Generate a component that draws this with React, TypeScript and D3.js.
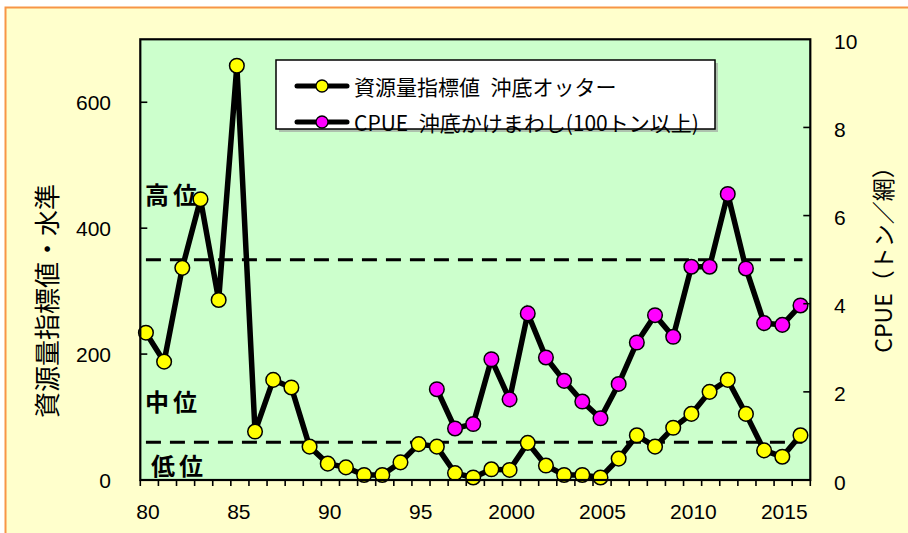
import React from "react";
import * as d3 from "d3";

const years: number[] = d3.range(1980, 2017);
const indexValues: number[] = [
  234, 188, 337, 446, 286, 658, 77, 159, 147, 53,
  26, 20, 8, 8, 28, 57, 53, 11, 4, 17,
  16, 59, 23, 8, 8, 4, 34, 71, 53, 83,
  105, 140, 159, 105, 47, 37, 71,
];
const cpueYears: number[] = d3.range(1996, 2017);
const cpueValues: number[] = [
  2.06, 1.17, 1.27, 2.74, 1.83, 3.78, 2.78, 2.25, 1.78, 1.4,
  2.18, 3.12, 3.74, 3.25, 4.84, 4.84, 6.49, 4.8, 3.56, 3.52, 3.96,
];
const leftTicks: number[] = [0, 200, 400, 600];
const rightTicks: number[] = [0, 2, 4, 6, 8, 10];
const xLabelYears: number[] = [1980, 1985, 1990, 1995, 2000, 2005, 2010, 2015];
const xLabels: string[] = ["80", "85", "90", "95", "2000", "2005", "2010", "2015"];
const levelLines: number[] = [350, 60];
const levelNames: string[] = ["高位", "中位", "低位"];
const levelNameValues: number[] = [455, 126, 24];
const legendLabels: string[] = ["資源量指標値\u2002沖底オッター", "CPUE\u2002沖底かけまわし(100トン以上)"];

const W = 908;
const H = 533;
const L = 140.3, R = 810.3, T = 39.3, B = 480;
const FONT = "'Liberation Sans', Arial, 'Noto Sans CJK JP', sans-serif";
const JFONT = "'Noto Sans CJK JP', 'Liberation Sans', sans-serif";

export default function App() {
  const x = d3.scaleLinear().domain([1979.69, 2016.54]).range([L, R]);
  const yL = d3.scaleLinear().domain([0, 700]).range([B, T]);
  const yR = d3.scaleLinear().domain([0, 10]).range([B, T]);
  const tickX = d3.range(38).map((i) => L + (i * (R - L)) / 37);

  const lineIdx = d3
    .line<number>()
    .x((_, i) => x(years[i]))
    .y((d) => yL(d));
  const lineCpue = d3
    .line<number>()
    .x((_, i) => x(cpueYears[i]))
    .y((d) => yR(d));

  const lx0 = 297, lx1 = 347, lmx = 322;
  const legendRows = [86, 122];
  const legendColors = ["#FFFF00", "#FF00FF"];

  return (
    <svg
      width={W}
      height={H}
      style={{ position: "absolute", left: 0, top: 0 }}
      xmlns="http://www.w3.org/2000/svg"
    >
      <rect x={0} y={0} width={W} height={H} fill="#ffffff" />
      <rect x={5.5} y={7.5} width={W + 20} height={H + 20} fill="#FFFFCC" stroke="#F79646" strokeWidth={2} />
      <rect x={L} y={T} width={R - L} height={B - T} fill="#CCFFCC" />

      {levelLines.map((v, i) => (
        <line
          key={"lv" + i}
          x1={x(1980)}
          x2={x(2016) + 2}
          y1={yL(v)}
          y2={yL(v)}
          stroke="#000"
          strokeWidth={3}
          strokeDasharray="15,9"
        />
      ))}

      {levelNames.map((s, i) => (
        <text
          key={"ln" + i}
          x={i === 2 ? 151 : 145}
          y={yL(levelNameValues[i])}
          fontFamily={JFONT}
          fontWeight="bold"
          fontSize={24}
          letterSpacing={4}
          dominantBaseline="central"
          fill="#000"
        >
          {s}
        </text>
      ))}

      <path d={lineIdx(indexValues) || ""} fill="none" stroke="#000" strokeWidth={5.5} strokeLinejoin="miter" />
      <path d={lineCpue(cpueValues) || ""} fill="none" stroke="#000" strokeWidth={5.5} strokeLinejoin="miter" />

      {indexValues.map((v, i) => (
        <circle key={"pi" + i} cx={x(years[i])} cy={yL(v)} r={7.3} fill="#FFFF00" stroke="#000" strokeWidth={1.5} />
      ))}
      {cpueValues.map((v, i) => (
        <circle key={"pc" + i} cx={x(cpueYears[i])} cy={yR(v)} r={7.3} fill="#FF00FF" stroke="#000" strokeWidth={1.5} />
      ))}

      <rect x={L} y={T} width={R - L} height={B - T} fill="none" stroke="#000" strokeWidth={2.2} />

      {tickX.map((tx, i) => (
        <line key={"bt" + i} x1={tx} x2={tx} y1={B} y2={B + 6} stroke="#000" strokeWidth={1.6} />
      ))}
      {leftTicks.slice(1).map((v) => (
        <line key={"lt" + v} x1={L} x2={L + 7} y1={yL(v)} y2={yL(v)} stroke="#000" strokeWidth={1.6} />
      ))}
      {rightTicks.slice(1, -1).map((v) => (
        <line key={"rt" + v} x1={R} x2={R - 7} y1={yR(v)} y2={yR(v)} stroke="#000" strokeWidth={1.6} />
      ))}

      {leftTicks.map((v) => (
        <text key={"ll" + v} x={111} y={yL(v)} textAnchor="end" dominantBaseline="central" fontFamily={FONT} fontSize={21} fill="#000">
          {v}
        </text>
      ))}
      {rightTicks.map((v) => (
        <text key={"rl" + v} x={834} y={yR(v) + 2} textAnchor="start" dominantBaseline="central" fontFamily={FONT} fontSize={21} fill="#000">
          {v}
        </text>
      ))}
      {xLabelYears.map((yr, i) => (
        <text key={"xl" + yr} x={x(yr) + 2} y={511} textAnchor="middle" dominantBaseline="central" fontFamily={FONT} fontSize={21} fill="#000">
          {xLabels[i]}
        </text>
      ))}

      <text
        transform={`translate(45,301) rotate(-90)`}
        textAnchor="middle"
        dominantBaseline="central"
        fontFamily={JFONT}
        fontSize={26}
        fill="#000"
      >
        資源量指標値・水準
      </text>
      <text
        transform={`translate(882,254) rotate(-90)`}
        textAnchor="middle"
        dominantBaseline="central"
        fontFamily={JFONT}
        fontSize={23}
        fill="#000"
      >
        CPUE（トン／網）
      </text>

      <rect x={279} y={63} width={439} height={69} fill="#999" opacity={0.6} />
      <rect x={276} y={60} width={439} height={69} fill="#fff" stroke="#000" strokeWidth={1.5} />
      {legendLabels.map((s, i) => (
        <g key={"lg" + i}>
          <line x1={lx0} x2={lx1} y1={legendRows[i]} y2={legendRows[i]} stroke="#000" strokeWidth={5} strokeLinecap="round" />
          <circle cx={lmx} cy={legendRows[i]} r={6} fill={legendColors[i]} stroke="#000" strokeWidth={1.3} />
          <text x={354} y={legendRows[i]} dominantBaseline="central" fontFamily={JFONT} fontSize={21} fill="#000">
            {s}
          </text>
        </g>
      ))}
    </svg>
  );
}
